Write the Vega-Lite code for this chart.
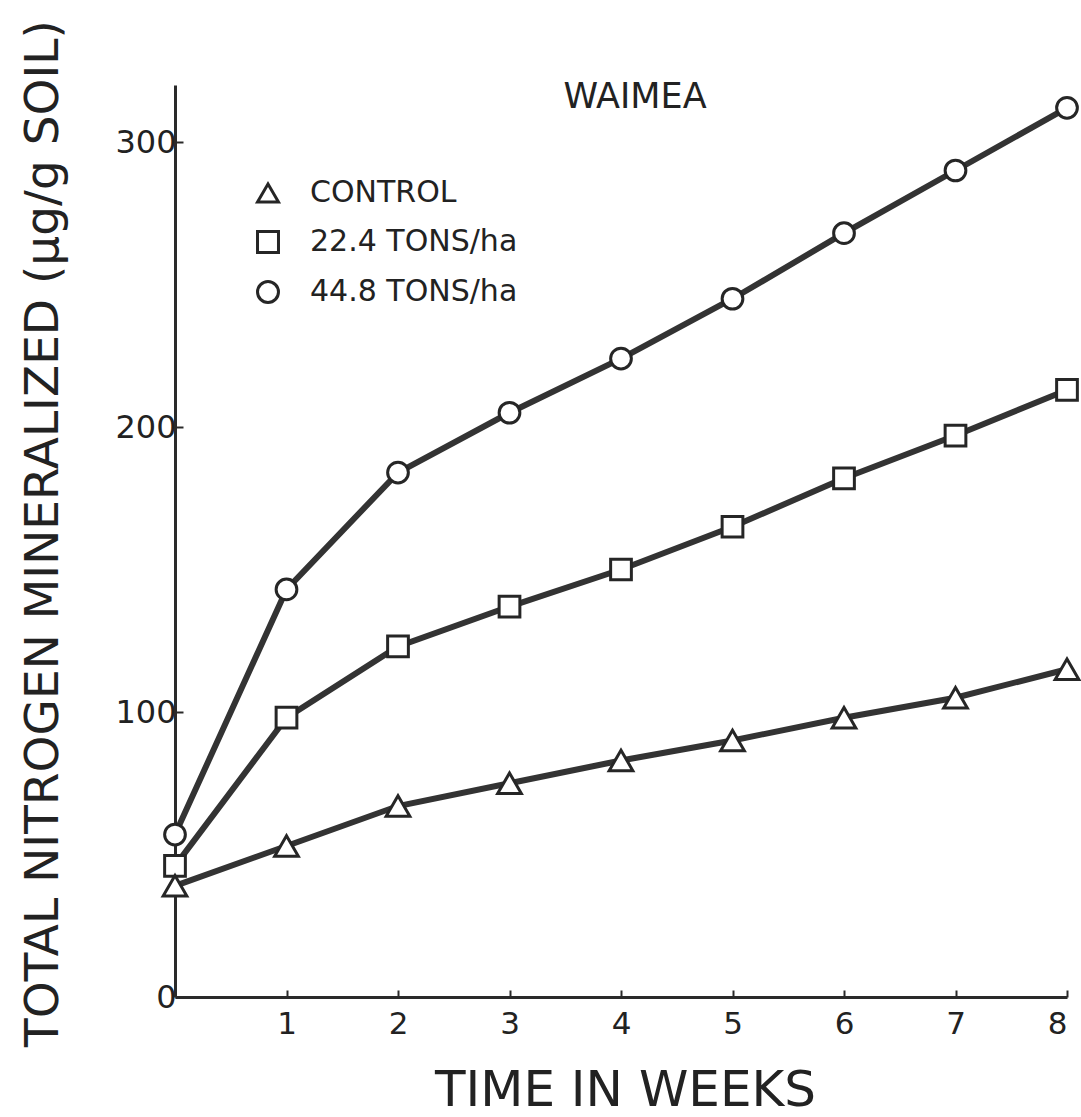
{
  "$schema": "https://vega.github.io/schema/vega-lite/v6.json",
  "width": 892,
  "height": 912,
  "autosize": {"type": "none"},
  "padding": {"left": 175, "top": 85, "right": 14, "bottom": 120},
  "background": "white",
  "config": {
    "view": {"stroke": null},
    "font": "DejaVu Sans",
    "axis": {"domainColor": "#2a2a2a", "tickColor": "#2a2a2a", "labelColor": "#222", "titleColor": "#222", "grid": false, "labelFont": "DejaVu Sans", "titleFont": "DejaVu Sans", "titleFontWeight": "normal"}
  },
  "title": {"text": "WAIMEA", "anchor": "middle", "offset": 0, "dx": 14, "dy": 103, "fontSize": 35, "fontWeight": "normal", "color": "#222", "font": "DejaVu Sans"},
  "data": {
    "values": [
      {"week": 0, "series": "CONTROL", "n": 39},
      {"week": 1, "series": "CONTROL", "n": 53},
      {"week": 2, "series": "CONTROL", "n": 67},
      {"week": 3, "series": "CONTROL", "n": 75},
      {"week": 4, "series": "CONTROL", "n": 83},
      {"week": 5, "series": "CONTROL", "n": 90},
      {"week": 6, "series": "CONTROL", "n": 98},
      {"week": 7, "series": "CONTROL", "n": 105},
      {"week": 8, "series": "CONTROL", "n": 115},
      {"week": 0, "series": "22.4 TONS/ha", "n": 46},
      {"week": 1, "series": "22.4 TONS/ha", "n": 98},
      {"week": 2, "series": "22.4 TONS/ha", "n": 123},
      {"week": 3, "series": "22.4 TONS/ha", "n": 137},
      {"week": 4, "series": "22.4 TONS/ha", "n": 150},
      {"week": 5, "series": "22.4 TONS/ha", "n": 165},
      {"week": 6, "series": "22.4 TONS/ha", "n": 182},
      {"week": 7, "series": "22.4 TONS/ha", "n": 197},
      {"week": 8, "series": "22.4 TONS/ha", "n": 213},
      {"week": 0, "series": "44.8 TONS/ha", "n": 57},
      {"week": 1, "series": "44.8 TONS/ha", "n": 143},
      {"week": 2, "series": "44.8 TONS/ha", "n": 184},
      {"week": 3, "series": "44.8 TONS/ha", "n": 205},
      {"week": 4, "series": "44.8 TONS/ha", "n": 224},
      {"week": 5, "series": "44.8 TONS/ha", "n": 245},
      {"week": 6, "series": "44.8 TONS/ha", "n": 268},
      {"week": 7, "series": "44.8 TONS/ha", "n": 290},
      {"week": 8, "series": "44.8 TONS/ha", "n": 312}
    ]
  },
  "encoding": {
    "x": {
      "field": "week", "type": "quantitative",
      "scale": {"domain": [0, 8], "nice": false, "zero": false},
      "axis": {
        "title": "TIME IN WEEKS", "values": [1, 2, 3, 4, 5, 6, 7, 8],
        "domainWidth": 3, "tickWidth": 2, "tickSize": -7,
        "labelFontSize": 31, "labelPadding": 19,
        "titleFontSize": 50, "titleX": 450, "titleY": 108, "titleBaseline": "alphabetic", "titleAlign": "center"
      }
    },
    "y": {
      "field": "n", "type": "quantitative",
      "scale": {"domain": [0, 320], "nice": false},
      "axis": {
        "title": "TOTAL NITROGEN MINERALIZED  (μg/g SOIL)", "values": [0, 100, 200, 300],
        "domainWidth": 3, "tickWidth": 2, "tickSize": -8,
        "labelFontSize": 32, "labelPadding": 7,
        "titleFontSize": 47, "titleX": -118, "titleY": 448, "titleBaseline": "alphabetic", "titleAngle": -90, "titleAlign": "center"
      }
    }
  },
  "layer": [
    {
      "mark": {"type": "line", "color": "#333", "strokeWidth": 6},
      "encoding": {"detail": {"field": "series"}}
    },
    {
      "transform": [{"filter": "datum.series !== 'CONTROL'"}],
      "mark": {"type": "point", "filled": true, "fill": "white", "stroke": "#262626", "strokeWidth": 3, "opacity": 1, "size": 430},
      "encoding": {
        "shape": {
          "field": "series", "type": "nominal",
          "scale": {"domain": ["CONTROL", "22.4 TONS/ha", "44.8 TONS/ha"], "range": ["triangle-up", "square", "circle"]},
          "legend": {
            "title": null, "orient": "none", "legendX": 78, "legendY": 93,
            "labelFontSize": 30, "labelColor": "#222", "labelFont": "DejaVu Sans", "labelOffset": 27, "labelLimit": 400,
            "symbolSize": 440, "symbolStrokeWidth": 3, "rowPadding": 16,
            "encode": {
              "symbols": {
                "update": {
                  "fill": {"value": "white"},
                  "stroke": {"value": "#222"},
                  "strokeWidth": {"value": 3},
                  "opacity": {"value": 1}
                }
              }
            }
          }
        }
      }
    },
    {
      "transform": [{"filter": "datum.series === 'CONTROL'"}],
      "mark": {"type": "point", "filled": true, "fill": "white", "stroke": "#262626", "strokeWidth": 3, "opacity": 1, "size": 560},
      "encoding": {
        "shape": {"field": "series", "type": "nominal"}
      }
    }
  ]
}
